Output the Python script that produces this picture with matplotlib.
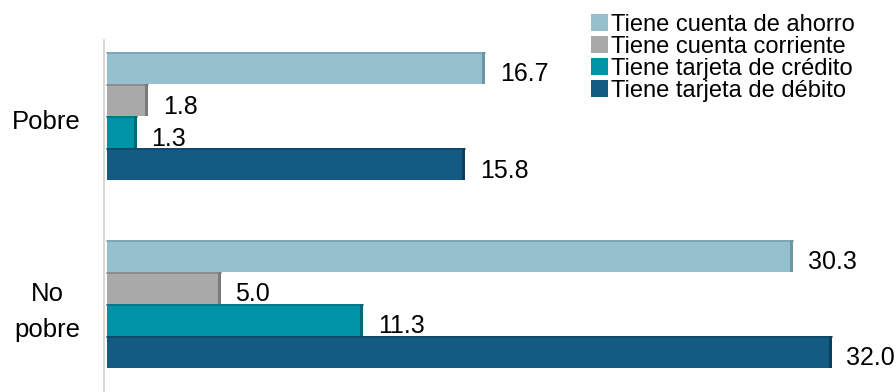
import matplotlib.pyplot as plt
from matplotlib.patches import Patch

plt.rcParams['font.family'] = ['Liberation Sans', 'DejaVu Sans']

GROUPS = ['Pobre', 'No\npobre']
SERIES = ['Tiene cuenta de ahorro', 'Tiene cuenta corriente',
          'Tiene tarjeta de crédito', 'Tiene tarjeta de débito']
VALUES = {
    'Pobre': [16.7, 1.8, 1.3, 15.8],
    'No\npobre': [30.3, 5.0, 11.3, 32.0],
}
COLORS = ['#95c0ce', '#a9a9a9', '#0092a5', '#135b82']
EDGES = ['#6f95a3', '#7a7a7a', '#006a78', '#0b3f5c']

fig = plt.figure(figsize=(8.96, 3.92), dpi=100)
ax = fig.add_axes([104 / 896, 0.0, 1 - 104 / 896, (392 - 40) / 392])

x0 = 0.15
cap = 0.13
group_start = [0.0, 5.85]
tick_shift = [0.1, 0.0]
for g, name in enumerate(GROUPS):
    for i, val in enumerate(VALUES[name]):
        y = group_start[g] + i
        ax.barh(y, val, height=1.0, color=COLORS[i], left=x0, linewidth=0)
        # darker right end, gives the bars their bevel look
        ax.barh(y, cap, height=1.0, color=EDGES[i], left=x0 + val - cap, linewidth=0)
        ax.plot([x0, x0 + val], [y - 0.47, y - 0.47], color=EDGES[i], lw=1.2, alpha=0.7)
        ax.text(x0 + val + 0.65, y + 0.2, '{:.1f}'.format(val),
                va='center', ha='left', fontsize=18, color='black')

ax.set_xlim(0, 35)
ax.set_ylim(10.1, -0.875)
ax.set_xticks([])
ax.set_yticks([g + 1.5 + s for g, s in zip(group_start, tick_shift)])
ax.set_yticklabels(GROUPS, fontsize=18.5, multialignment='center', linespacing=1.6)
ax.tick_params(axis='y', length=0, pad=17)
for s in ['top', 'right', 'bottom']:
    ax.spines[s].set_visible(False)
ax.spines['left'].set_color('#d0d0d0')
ax.spines['left'].set_linewidth(1.2)

handles = [Patch(facecolor=c, edgecolor='none') for c in COLORS]
fig.legend(handles, SERIES, loc='upper left', bbox_to_anchor=(591 / 896, 1.0 - 14 / 392),
           frameon=False, fontsize=17, handlelength=0.7, handleheight=0.7,
           handletextpad=0.15, labelspacing=0.0, borderaxespad=0, borderpad=0.0)

fig.savefig('out.png', dpi=100)
